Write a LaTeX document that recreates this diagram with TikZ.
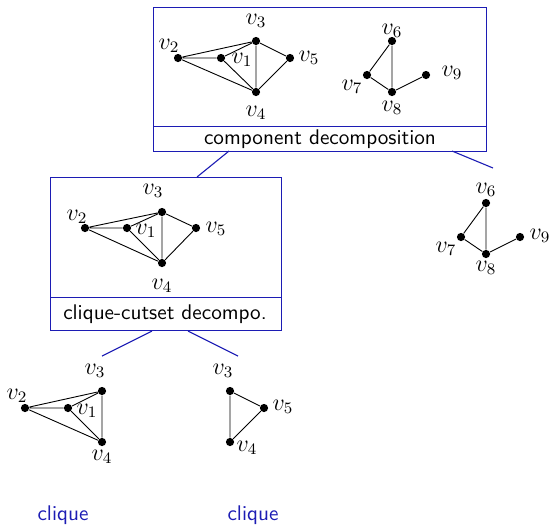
\documentclass[tikz,border=0pt]{standalone}
\usepackage{tikz}
\definecolor{treeblue}{RGB}{28,28,180}
\tikzset{
  vtx/.style={circle, fill=black, inner sep=0pt, minimum size=4.1pt},
  lbl/.style={inner sep=0pt, font=\large},
  edge/.style={line width=0.45pt},
  boxframe/.style={draw=treeblue, line width=0.7pt, line cap=rect},
  link/.style={draw=treeblue, line width=0.55pt},
  caption/.style={inner sep=0pt, font=\sffamily\fontsize{10.6}{12}\selectfont},
  leafcap/.style={inner sep=0pt, text=treeblue, font=\sffamily\fontsize{10.6}{12}\selectfont}
}
\begin{document}
\begin{tikzpicture}[x=0.5pt, y=-0.5pt]
\useasboundingbox (0,0) rectangle (550,526);

% ---------- root box: whole graph ----------
\draw[boxframe] (153.5,7.5) -- (486.5,7.5);
\draw[boxframe] (486.5,7.5) -- (486.5,151.5);
\draw[boxframe] (486.5,151.5) -- (153.5,151.5);
\draw[boxframe] (153.5,151.5) -- (153.5,7.5);
\draw[boxframe] (153.5,126.5) -- (486.5,126.5);
\node[caption] (capR) at (320,139) {component decomposition};

\node[vtx] (r2) at (178,58) {};
\node[vtx] (r1) at (221,58) {};
\node[vtx] (r3) at (256,41) {};
\node[vtx] (r5) at (290,58) {};
\node[vtx] (r4) at (256,92) {};
\node[vtx] (r6) at (392,41) {};
\node[vtx] (r7) at (367,75) {};
\node[vtx] (r8) at (392,92) {};
\node[vtx] (r9) at (426,75) {};
\draw[edge] (r2) -- (r1) (r2) -- (r3) (r2) -- (r4) (r1) -- (r3) (r1) -- (r4)
            (r3) -- (r4) (r3) -- (r5) (r5) -- (r4)
            (r6) -- (r7) (r6) -- (r8) (r7) -- (r8) (r8) -- (r9);
\node[lbl] (lr3) at (256,21) {$v_3$};
\node[lbl] (lr2) at (169,46) {$v_2$};
\node[lbl] (lr1) at (242,60) {$v_1$};
\node[lbl] (lr5) at (309,58) {$v_5$};
\node[lbl] (lr4) at (256,113) {$v_4$};
\node[lbl] (lr6) at (392,31) {$v_6$};
\node[lbl] (lr7) at (352,87) {$v_7$};
\node[lbl] (lr8) at (392,108) {$v_8$};
\node[lbl] (lr9) at (452,73) {$v_9$};

% ---------- component v1..v5 ----------
\draw[boxframe] (50.5,177.5) -- (281.5,177.5);
\draw[boxframe] (281.5,177.5) -- (281.5,330.5);
\draw[boxframe] (281.5,330.5) -- (50.5,330.5);
\draw[boxframe] (50.5,330.5) -- (50.5,177.5);
\draw[boxframe] (50.5,297.5) -- (281.5,297.5);
\node[caption] (capM) at (165,314) {clique-cutset decompo.};

\node[vtx] (m2) at (85,228) {};
\node[vtx] (m1) at (127,228) {};
\node[vtx] (m3) at (162,212) {};
\node[vtx] (m5) at (196,228) {};
\node[vtx] (m4) at (162,263) {};
\draw[edge] (m2) -- (m1) (m2) -- (m3) (m2) -- (m4) (m1) -- (m3) (m1) -- (m4)
            (m3) -- (m4) (m3) -- (m5) (m5) -- (m4);
\node[lbl] (lm3) at (153,191) {$v_3$};
\node[lbl] (lm2) at (77,217) {$v_2$};
\node[lbl] (lm1) at (146,231) {$v_1$};
\node[lbl] (lm5) at (216,229) {$v_5$};
\node[lbl] (lm4) at (162,286) {$v_4$};

% ---------- component v6..v9 ----------
\node[vtx] (c6) at (486,203) {};
\node[vtx] (c7) at (461,237) {};
\node[vtx] (c8) at (486,254) {};
\node[vtx] (c9) at (520,237) {};
\draw[edge] (c6) -- (c7) (c6) -- (c8) (c7) -- (c8) (c8) -- (c9);
\node[lbl] (lc6) at (486,190) {$v_6$};
\node[lbl] (lc7) at (446,249) {$v_7$};
\node[lbl] (lc8) at (486,268) {$v_8$};
\node[lbl] (lc9) at (540,236) {$v_9$};

% ---------- atom v1..v4 ----------
\node[vtx] (a2) at (25,408) {};
\node[vtx] (a1) at (68,408) {};
\node[vtx] (a3) at (102,391) {};
\node[vtx] (a4) at (102,442) {};
\draw[edge] (a2) -- (a1) (a2) -- (a3) (a2) -- (a4) (a1) -- (a3) (a1) -- (a4) (a3) -- (a4);
\node[lbl] (la3) at (95,371) {$v_3$};
\node[lbl] (la2) at (17,396) {$v_2$};
\node[lbl] (la1) at (87,411) {$v_1$};
\node[lbl] (la4) at (102,457) {$v_4$};
\node[leafcap] (cl1) at (63,515) {clique};

% ---------- atom v3,v4,v5 ----------
\node[vtx] (b3) at (230,391) {};
\node[vtx] (b5) at (264,408) {};
\node[vtx] (b4) at (230,442) {};
\draw[edge] (b3) -- (b5) (b5) -- (b4) (b3) -- (b4);
\node[lbl] (lb3) at (223,371) {$v_3$};
\node[lbl] (lb5) at (283,407) {$v_5$};
\node[lbl] (lb4) at (247,448) {$v_4$};
\node[leafcap] (cl2) at (253,515) {clique};

% ---------- tree links ----------
\coordinate (t1) at (229,151);
\coordinate (t2) at (452,151);
\coordinate (m0) at (197,177);
\coordinate (c0) at (493,168);
\coordinate (s1) at (152,331);
\coordinate (s2) at (188,331);
\coordinate (e1) at (102,356);
\coordinate (e2) at (238,356);
\draw[link] (t1) -- (m0);
\draw[link] (t2) -- (c0);
\draw[link] (s1) -- (e1);
\draw[link] (s2) -- (e2);
\end{tikzpicture}
\end{document}
